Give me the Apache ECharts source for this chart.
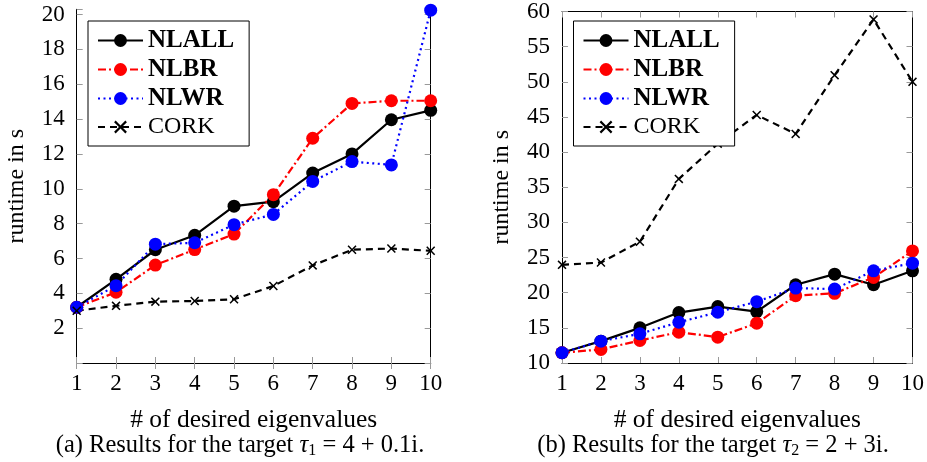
<!DOCTYPE html>
<html><head><meta charset="utf-8">
<script src="https://cdn.jsdelivr.net/npm/echarts@6/dist/echarts.min.js"></script>
<style>html,body{margin:0;padding:0;background:#fff}#c{width:927px;height:462px}</style>
</head><body><div id="c"></div>
<script>
// ---- data ----
const xValues = [1, 2, 3, 4, 5, 6, 7, 8, 9, 10];
const seriesNames = ['NLALL', 'NLBR', 'NLWR', 'CORK'];
const leftNLALL = [3.2, 4.8, 6.5, 7.33, 9.0, 9.26, 10.9, 12.0, 13.96, 14.5];
const leftNLBR  = [3.2, 4.06, 5.62, 6.51, 7.4, 9.66, 12.9, 14.9, 15.05, 15.05];
const leftNLWR  = [3.2, 4.44, 6.82, 6.9, 7.94, 8.53, 10.42, 11.56, 11.37, 20.25];
const leftCORK  = [3.0, 3.28, 3.52, 3.56, 3.66, 4.42, 5.6, 6.5, 6.57, 6.44];
const rightNLALL = [11.46, 13.11, 15.0, 17.17, 18.02, 17.31, 21.13, 22.64, 21.13, 23.11];
const rightNLBR  = [11.46, 11.93, 13.2, 14.39, 13.68, 15.66, 19.58, 19.91, 22.17, 25.94];
const rightNLWR  = [11.46, 13.11, 14.15, 15.8, 17.22, 18.73, 20.66, 20.52, 23.11, 24.2];
const rightCORK  = [23.96, 24.29, 27.26, 36.18, 41.2, 45.28, 42.59, 50.94, 58.87, 50.0];
const xTickLabels = [1, 2, 3, 4, 5, 6, 7, 8, 9, 10];
const leftYTickLabels = [2, 4, 6, 8, 10, 12, 14, 16, 18, 20];
const rightYTickLabels = [10, 15, 20, 25, 30, 35, 40, 45, 50, 55, 60];
const xAxisTitle = '# of desired eigenvalues';
const yAxisTitle = 'runtime in s';
const captionA = ['(a) Results for the target ', 'τ', '1', ' = 4 + 0.1i.'];
const captionB = ['(b) Results for the target ', 'τ', '2', ' = 2 + 3i.'];

// ---- styles ----
const FONT = "'Liberation Serif', 'DejaVu Serif', serif";
const crossPath = 'path://M0,1.2 L1.2,0 L5,3.8 L8.8,0 L10,1.2 L6.2,5 L10,8.8 L8.8,10 L5,6.2 L1.2,10 L0,8.8 L3.8,5 Z';
const styles = {
  NLALL: { color: '#000000', type: 'solid', symbol: 'circle', size: 13 },
  NLBR:  { color: '#ff0000', type: [8, 3, 2, 3], symbol: 'circle', size: 13 },
  NLWR:  { color: '#0000ff', type: [2, 3.5], symbol: 'circle', size: 13 },
  CORK:  { color: '#000000', type: [7, 5], symbol: crossPath, size: 9 }
};
const leftData = { NLALL: leftNLALL, NLBR: leftNLBR, NLWR: leftNLWR, CORK: leftCORK };
const rightData = { NLALL: rightNLALL, NLBR: rightNLBR, NLWR: rightNLWR, CORK: rightCORK };

function mkSeries(dataMap, xi, yi) {
  return seriesNames.map(n => ({
    name: n, type: 'line', xAxisIndex: xi, yAxisIndex: yi,
    data: xValues.map((x, i) => [x, dataMap[n][i]]),
    symbol: styles[n].symbol, symbolSize: styles[n].size, showSymbol: true,
    lineStyle: { color: styles[n].color, width: 2.2, type: styles[n].type },
    itemStyle: { color: styles[n].color },
    animation: false, silent: true
  }));
}

const tickStyle = { show: true, inside: true, length: 6, lineStyle: { color: '#999', width: 1 } };
const lineStyleAxis = { show: true, lineStyle: { color: '#000', width: 1 } };
function xAx(grid, pos, labels) {
  return {
    type: 'value', gridIndex: grid, position: pos, min: 1, max: 10, interval: 1,
    axisLine: lineStyleAxis, axisTick: tickStyle, splitLine: { show: false },
    axisLabel: labels ? { show: true, margin: 9, fontFamily: FONT, fontSize: 23, color: '#000',
      formatter: v => xTickLabels.includes(v) ? String(v) : '' } : { show: false },
    name: labels ? xAxisTitle : '', nameLocation: 'middle', nameGap: 44,
    nameTextStyle: { fontFamily: FONT, fontSize: 25.5, color: '#000' }
  };
}
function yAx(grid, pos, min, max, interval, tickLabels) {
  return {
    type: 'value', gridIndex: grid, position: pos, min: min, max: max, interval: interval,
    axisLine: lineStyleAxis, axisTick: tickStyle, splitLine: { show: false },
    axisLabel: tickLabels ? { show: true, margin: 12, fontFamily: FONT, fontSize: 23, color: '#000',
      formatter: v => tickLabels.includes(v) ? String(v) : '' } : { show: false },
    name: tickLabels ? yAxisTitle : '', nameLocation: 'middle', nameGap: 48, nameRotate: 90,
    nameTextStyle: { fontFamily: FONT, fontSize: 24, color: '#000' }
  };
}
function mkLegend(left) {
  return {
    orient: 'vertical', left: left, top: 21,
    backgroundColor: '#fff', borderColor: '#000', borderWidth: 1,
    padding: [7, 15, 7, 9], itemGap: 4, itemWidth: 45, itemHeight: 16,
    selectedMode: false,
    textStyle: { fontFamily: FONT, fontSize: 24, color: '#000' },
    data: seriesNames.map((n, i) => ({ name: n, textStyle: { fontWeight: i < 3 ? 'bold' : 'normal', fontSize: i < 3 ? 25 : 24 } }))
  };
}
function caption(parts, cx) {
  return {
    type: 'text', x: cx, y: 445,
    style: {
      text: '{n|' + parts[0] + '}{i|' + parts[1] + '}{s|' + parts[2] + '}{n|' + parts[3] + '}',
      fontFamily: FONT, fontSize: 24.5, fill: '#000', align: 'center', verticalAlign: 'middle',
      rich: {
        n: { fontFamily: FONT, fontSize: 24.5, fill: '#000', verticalAlign: 'bottom', lineHeight: 27 },
        i: { fontFamily: FONT, fontSize: 24.5, fontStyle: 'italic', fill: '#000', verticalAlign: 'bottom', lineHeight: 27 },
        s: { fontFamily: FONT, fontSize: 16, fill: '#000', verticalAlign: 'bottom', lineHeight: 21 }
      }
    }
  };
}

const chart = echarts.init(document.getElementById('c'), null, { renderer: 'canvas' });
chart.setOption({
  animation: false,
  backgroundColor: '#fff',
  grid: [
    { left: 76.7, right: 927 - 430.7, top: 9.3, bottom: 462 - 363, containLabel: false },
    { left: 562, right: 927 - 916, top: 9.3, bottom: 462 - 363, containLabel: false }
  ],
  xAxis: [xAx(0, 'bottom', true), xAx(0, 'top', false), xAx(1, 'bottom', true), xAx(1, 'top', false)],
  yAxis: [
    yAx(0, 'left', 0, 20.3, 2, leftYTickLabels), yAx(0, 'right', 0, 20.3, 2, null),
    yAx(1, 'left', 10, 60, 5, rightYTickLabels), yAx(1, 'right', 10, 60, 5, null)
  ],
  legend: [mkLegend(88), mkLegend(573.5)],
  series: [...mkSeries(leftData, 0, 0), ...mkSeries(rightData, 2, 2)],
  graphic: [caption(captionA, 240), caption(captionB, 713)]
});
</script></body></html>
